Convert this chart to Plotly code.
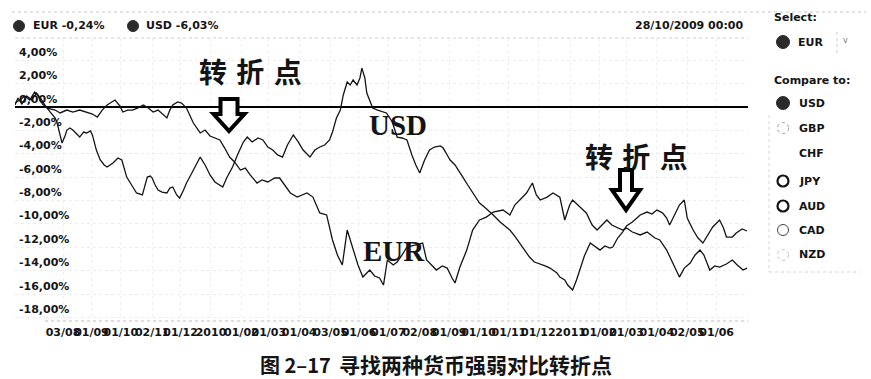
import pandas as pd
import plotly.graph_objects as go

# ---- data: cumulative % change, day offsets counted from START ----
START = pd.Timestamp("2009-06-15")

eur_day = [0, 5, 10, 15, 20, 23, 28, 33, 41, 46,
           53, 59, 66, 73, 79, 84, 89, 94, 102, 107,
           110, 115, 120, 125, 131, 136, 141, 146, 151, 155,
           158, 161, 166, 170, 175, 182, 189, 194, 199, 204,
           209, 214, 219, 224, 230, 235, 240, 247, 252, 258,
           265, 270, 275, 281, 288, 294, 298, 304, 308, 311,
           318, 324, 329, 334, 339, 345, 350, 355, 362, 367,
           372, 376, 380, 386, 390, 395, 400, 408, 416, 420,
           425, 430, 436, 441, 446, 449, 454, 461, 467, 474,
           481, 488, 498, 505, 510, 515, 522, 528, 532, 536,
           543, 549, 556, 561, 566, 569, 576, 583, 589, 594,
           599, 604, 609, 614, 620, 624, 630, 638, 645, 653,
           658, 665, 671, 675, 678, 683, 689, 694, 699, 703,
           706, 709, 714, 719, 726, 732, 737, 743, 747]
eur_pct = [0.34, 0.60, 0.94, 0.60, 1.28, 1.03, 0.26, -0.09, -0.26, -0.51,
           -0.26, -0.43, -0.26, -0.43, -0.60, -0.86, -0.26, 0.17, 0.60, 0.09,
           -0.43, -0.26, -0.26, -0.09, 0.17, -0.09, -0.43, -0.26, -0.68, -0.94,
           -0.26, 0.17, 0.43, 0.34, -0.09, -1.37, -2.22, -1.97, -2.48, -2.65,
           -2.82, -3.51, -4.28, -4.70, -5.39, -5.22, -5.81, -6.50, -6.24, -6.41,
           -6.07, -6.07, -6.67, -7.35, -7.70, -7.52, -7.35, -7.70, -8.55, -9.06,
           -9.23, -11.37, -12.65, -13.51, -10.52, -12.23, -13.51, -14.54, -13.94, -14.45,
           -14.62, -15.22, -13.08, -13.51, -13.25, -12.65, -11.97, -11.80, -11.63, -13.08,
           -13.51, -13.94, -13.59, -13.77, -14.62, -15.05, -13.68, -12.23, -10.52, -9.66,
           -9.41, -8.98, -8.81, -9.23, -8.38, -7.95, -7.35, -6.50, -7.52, -7.95,
           -7.70, -7.35, -7.70, -9.66, -8.38, -7.95, -8.55, -9.06, -10.09, -10.52,
           -10.09, -9.66, -10.09, -10.26, -10.52, -10.35, -10.69, -10.94, -10.69, -11.20,
           -11.37, -12.23, -13.34, -13.94, -14.54, -13.77, -13.34, -12.65, -12.23, -12.65,
           -13.25, -13.94, -13.59, -13.68, -13.42, -13.08, -13.51, -13.94, -13.77]

usd_day = [0, 3, 7, 12, 17, 22, 26, 31, 36, 41,
           43, 46, 48, 51, 53, 56, 59, 63, 66, 70,
           73, 77, 79, 83, 87, 91, 94, 100, 105, 109,
           112, 114, 119, 124, 130, 133, 135, 138, 140, 143,
           146, 150, 155, 158, 161, 165, 168, 172, 175, 181,
           186, 189, 194, 199, 204, 209, 212, 216, 219, 222,
           227, 233, 237, 242, 248, 253, 258, 263, 268, 273,
           278, 284, 289, 294, 301, 306, 311, 316, 321, 324,
           328, 332, 335, 339, 342, 345, 349, 352, 354, 357,
           359, 362, 365, 370, 375, 379, 385, 390, 395, 400,
           405, 409, 413, 418, 423, 428, 434, 437, 441, 444,
           449, 454, 457, 462, 467, 474, 479, 485, 488, 495,
           500, 505, 510, 515, 520, 525, 530, 536, 541, 546,
           549, 553, 556, 561, 564, 569, 573, 576, 581, 587,
           592, 597, 602, 607, 610, 615, 620, 624, 630, 634,
           638, 645, 650, 655, 661, 665, 668, 673, 678, 683,
           686, 692, 697, 702, 707, 712, 719, 723, 726, 732,
           736, 742, 747]
usd_pct = [0.17, 0.77, 0.26, 0.94, 0.60, 1.20, 0.77, 0.09, -0.43, -0.94,
           -1.37, -2.39, -3.08, -2.48, -1.97, -1.80, -1.97, -2.31, -2.57, -2.14,
           -2.22, -2.05, -2.39, -3.68, -4.53, -4.96, -5.13, -4.79, -4.36, -4.53,
           -5.39, -5.99, -6.67, -7.35, -7.52, -6.50, -5.99, -5.90, -6.07, -6.67,
           -7.10, -7.27, -7.35, -6.93, -6.84, -7.52, -7.78, -7.10, -6.50, -5.56,
           -4.79, -4.28, -4.96, -5.81, -6.41, -6.67, -6.84, -6.07, -5.56, -5.13,
           -4.10, -2.99, -2.57, -2.99, -2.65, -2.82, -3.42, -3.68, -4.10, -4.28,
           -3.25, -2.39, -2.99, -3.68, -4.28, -3.68, -3.42, -3.25, -2.82, -2.14,
           -0.94, -0.26, 1.03, 2.14, 1.88, 2.31, 1.88, 2.48, 3.33, 2.48,
           1.20, 0.60, -0.09, -0.26, -0.43, -0.51, -1.28, -2.57, -2.65, -2.82,
           -4.10, -4.96, -5.64, -4.53, -3.68, -3.42, -3.33, -3.51, -4.10, -4.53,
           -4.96, -5.56, -5.99, -6.67, -7.27, -8.21, -8.55, -8.98, -9.23, -9.83,
           -10.17, -10.52, -11.03, -11.63, -12.23, -12.83, -13.25, -13.42, -13.59, -13.77,
           -13.94, -14.19, -14.54, -14.79, -15.22, -15.65, -14.79, -13.94, -12.74, -11.63,
           -11.97, -12.23, -11.88, -12.06, -11.97, -11.20, -10.69, -10.17, -9.83, -9.49,
           -9.23, -8.98, -9.15, -8.81, -9.06, -9.49, -10.09, -9.23, -8.38, -7.95,
           -9.49, -10.52, -11.20, -11.63, -10.94, -10.26, -9.66, -10.35, -11.12, -11.12,
           -10.77, -10.43, -10.60]

tick_dates = ["2009-08-03", "2009-09-01", "2009-10-01", "2009-11-02", "2009-12-01",
              "2010-01-01", "2010-02-01", "2010-03-01", "2010-04-01", "2010-05-03",
              "2010-06-01", "2010-07-01", "2010-08-02", "2010-09-01", "2010-10-01",
              "2010-11-01", "2010-12-01", "2011-01-03", "2011-02-01", "2011-03-01",
              "2011-04-01", "2011-05-02", "2011-06-01"]
tick_text = ["03/08", "01/09", "01/10", "02/11", "01/12", "2010", "01/02", "01/03",
             "01/04", "03/05", "01/06", "01/07", "02/08", "01/09", "01/10", "01/11",
             "01/12", "2011", "01/02", "01/03", "01/04", "02/05", "01/06"]

y_ticks = [4, 2, 0, -2, -4, -6, -8, -10, -12, -14, -16, -18]
y_tick_text = [f"{v:.2f}%".replace(".", ",") for v in y_ticks]

compare_items = ["USD", "GBP", "CHF", "JPY", "AUD", "CAD", "NZD"]
compare_style = ["filled", "dotted", "none", "bold", "bold", "thin", "faint"]

# ---- page geometry ----
W, H = 871, 379
ML, MR, MT, MB = 15, 123, 38, 59
PW = W - ML - MR
PH = H - MT - MB


def fx(px):
    return (px - ML) / PW


def fy(py):
    return (H - MB - py) / PH


SANS = "DejaVu Sans"
CJK = "Noto Sans CJK SC"
INK = "#141414"

eur_x = START + pd.to_timedelta(eur_day, unit="D")
usd_x = START + pd.to_timedelta(usd_day, unit="D")

fig = go.Figure()
fig.add_trace(go.Scatter(x=eur_x, y=eur_pct, mode="lines", name="EUR",
                         line=dict(color=INK, width=1.3)))
fig.add_trace(go.Scatter(x=usd_x, y=usd_pct, mode="lines", name="USD",
                         line=dict(color=INK, width=1.3)))

annotations = []
shapes = []


def text(px, py, s, size=11, anchor="left", family=SANS, weight="bold", color=INK):
    annotations.append(dict(x=fx(px), y=fy(py), xref="paper", yref="paper",
                            text=s, showarrow=False, xanchor=anchor, yanchor="middle",
                            font=dict(family=family, size=size, color=color, weight=weight)))


def circle(cx, cy, r, fill=None, color=INK, width=1.0, dash="solid"):
    shapes.append(dict(type="circle", xref="paper", yref="paper",
                       x0=fx(cx - r), x1=fx(cx + r), y0=fy(cy + r), y1=fy(cy - r),
                       fillcolor=fill if fill else "rgba(0,0,0,0)",
                       line=dict(color=color, width=width, dash=dash)))


def hline(x0, x1, py, color="#c8c8c8"):
    shapes.append(dict(type="line", xref="paper", yref="paper",
                       x0=fx(x0), x1=fx(x1), y0=fy(py), y1=fy(py),
                       line=dict(color=color, width=1, dash="dot")))


def vline(px, y0, y1, color="#c8c8c8"):
    shapes.append(dict(type="line", xref="paper", yref="paper",
                       x0=fx(px), x1=fx(px), y0=fy(y0), y1=fy(y1),
                       line=dict(color=color, width=1, dash="dot")))


def down_arrow(cx, top, stem_hw, stem_bottom, head_hw, tip, lw):
    pts = [(cx - stem_hw, top), (cx + stem_hw, top), (cx + stem_hw, stem_bottom),
           (cx + head_hw, stem_bottom), (cx, tip), (cx - head_hw, stem_bottom),
           (cx - stem_hw, stem_bottom)]
    path = "M " + " L ".join(f"{fx(a):.5f},{fy(b):.5f}" for a, b in pts) + " Z"
    shapes.append(dict(type="path", xref="paper", yref="paper", path=path,
                       fillcolor="white", line=dict(color="black", width=lw)))


# y value labels sit just above their grid lines, inside the plot
for v, s in zip(y_ticks, y_tick_text):
    annotations.append(dict(x=fx(17), y=v, xref="paper", yref="y", text=s,
                            showarrow=False, xanchor="left", yanchor="middle", yshift=8,
                            font=dict(family=SANS, size=11, color=INK, weight="bold")))

# frame rules
hline(12, 866, 12)
hline(15, 748, 38, "#d0d0d0")
hline(45, 748, 321, "#bdbdbd")
vline(769, 115, 272, "#d4d4d4")
hline(769, 860, 272, "#d4d4d4")

# header line: series readout and timestamp
circle(19, 26, 5.5, fill="#2b2b2b", color="#2b2b2b")
text(31, 26, "EUR -0,24%")
circle(133, 26, 5.5, fill="#2b2b2b", color="#2b2b2b")
text(144, 26, "USD -6,03%")
text(745, 26, "28/10/2009 00:00", anchor="right")

# turning point callouts
text(250, 71, "转\u2004折\u2004点", size=28, anchor="center", family=CJK)
down_arrow(229, 99, 8.5, 114, 15.5, 131, 4)
text(636, 156, "转\u2004折\u2004点", size=28, anchor="center", family=CJK)
down_arrow(626, 170, 6, 190, 14, 210, 4)

# series names on the lines
text(398, 125, "USD", size=29, anchor="center", family="Liberation Serif", weight="bold")
text(394, 251, "EUR", size=29, anchor="center", family="Liberation Serif", weight="bold")

# side panel
text(772, 18, "Select:")
circle(783, 42, 6.5, fill="#2b2b2b", color="#2b2b2b")
text(796, 42, "EUR")
vline(837, 32, 54, "#cccccc")
text(845, 41, "v", size=8, anchor="center", weight="normal", color="#777777")
text(772, 80, "Compare to:")
item_y = [103, 128, 153, 181, 206, 230, 255]
for name, style, cy in zip(compare_items, compare_style, item_y):
    if style == "filled":
        circle(783, cy, 6.5, fill="#2b2b2b", color="#2b2b2b")
    elif style == "dotted":
        circle(783, cy, 5.5, color="#9a9a9a", width=1, dash="dot")
    elif style == "bold":
        circle(783, cy, 5.5, color=INK, width=2.2)
    elif style == "thin":
        circle(783, cy, 5.5, color="#444444", width=1)
    elif style == "faint":
        circle(783, cy, 5.5, color="#c4c4c4", width=1, dash="dot")
    text(797, cy, name)

# caption
text(258, 364, "图 2–17", size=20, family=CJK)
text(337, 364, "寻找两种货币强弱对比转折点", size=21, family=CJK)

fig.update_layout(
    width=W, height=H,
    margin=dict(l=ML, r=MR, t=MT, b=MB),
    paper_bgcolor="white", plot_bgcolor="white",
    showlegend=False,
    annotations=annotations,
    shapes=shapes,
    xaxis=dict(
        type="date",
        range=[START, START + pd.Timedelta(days=748)],
        tickmode="array", tickvals=tick_dates, ticktext=tick_text,
        tickangle=0, ticks="", ticklabelstandoff=4,
        tickfont=dict(family=SANS, size=11, color=INK, weight="bold"),
        showgrid=True, gridcolor="#efefef", griddash="dot",
        showline=False, zeroline=False,
    ),
    yaxis=dict(
        range=[-18.21, 5.90],
        tickmode="array", tickvals=y_ticks, showticklabels=False, ticks="",
        showgrid=True, gridcolor="#ececec", griddash="dot",
        zeroline=True, zerolinecolor="black", zerolinewidth=1.5,
        showline=False,
    ),
)

fig.write_html("out.html")
